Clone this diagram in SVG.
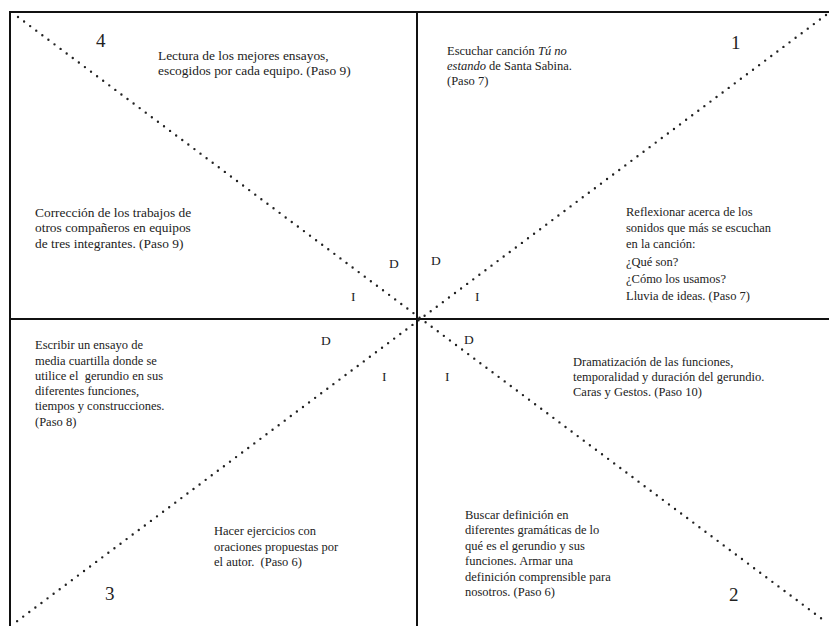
<svg xmlns="http://www.w3.org/2000/svg" width="829" height="626" viewBox="0 0 829 626">
<style>
text { font-family: "Liberation Serif", "Times New Roman", serif; fill: #222; white-space: pre; }
.t { font-size: 12.5px; }
.tb { font-size: 13.4px; }
.num { font-size: 19px; }
.lbl { font-size: 13.5px; }
.frame { stroke: #111; stroke-width: 2; fill: none; }
.dot { stroke: #222; stroke-width: 2.4; stroke-linecap: round; stroke-dasharray: 0 7.6; fill: none; }
</style>
<rect width="829" height="626" fill="#fff"/>
<g id="connectors">
  <line class="frame" x1="10" y1="12" x2="829" y2="12"/>
  <line class="frame" x1="10" y1="11" x2="10" y2="626"/>
  <line class="frame" x1="417" y1="12" x2="417" y2="626"/>
  <line class="frame" x1="10" y1="319" x2="829" y2="319"/>
  <line class="dot" x1="18" y1="17" x2="826" y2="622"/>
  <line class="dot" x1="826" y1="15" x2="16" y2="622"/>
</g>
<g id="q4">
  <text class="num" x="96" y="47">4</text>
  <text class="tb" x="158" y="60">Lectura de los mejores ensayos,</text>
  <text class="tb" x="158" y="75">escogidos por cada equipo. (Paso 9)</text>
  <text class="tb" x="35" y="217">Corrección de los trabajos de</text>
  <text class="tb" x="35" y="232">otros compañeros en equipos</text>
  <text class="tb" x="35" y="248">de tres integrantes. (Paso 9)</text>
  <text class="lbl" x="389" y="268">D</text>
  <text class="lbl" x="351" y="301">I</text>
</g>
<g id="q1">
  <text class="num" x="731" y="49">1</text>
  <text class="t" x="447" y="55">Escuchar canción <tspan font-style="italic">Tú no</tspan></text>
  <text class="t" x="447" y="70"><tspan font-style="italic">estando</tspan> de Santa Sabina.</text>
  <text class="t" x="447" y="85">(Paso 7)</text>
  <text class="t" x="626" y="216">Reflexionar acerca de los</text>
  <text class="t" x="626" y="232">sonidos que más se escuchan</text>
  <text class="t" x="626" y="248">en la canción:</text>
  <text class="t" x="626" y="266">¿Qué son?</text>
  <text class="t" x="626" y="283">¿Cómo los usamos?</text>
  <text class="t" x="626" y="300">Lluvia de ideas. (Paso 7)</text>
  <text class="lbl" x="431" y="265">D</text>
  <text class="lbl" x="475" y="301">I</text>
</g>
<g id="q3">
  <text class="t" x="35" y="349">Escribir un ensayo de</text>
  <text class="t" x="35" y="365">media cuartilla donde se</text>
  <text class="t" x="35" y="380">utilice el  gerundio en sus</text>
  <text class="t" x="35" y="395">diferentes funciones,</text>
  <text class="t" x="35" y="410">tiempos y construcciones.</text>
  <text class="t" x="35" y="426">(Paso 8)</text>
  <text class="lbl" x="321" y="345">D</text>
  <text class="lbl" x="382" y="381">I</text>
  <text class="t" x="214" y="535">Hacer ejercicios con</text>
  <text class="t" x="214" y="551">oraciones propuestas por</text>
  <text class="t" x="214" y="566">el autor.  (Paso 6)</text>
  <text class="num" x="105" y="600">3</text>
</g>
<g id="q2">
  <text class="lbl" x="464" y="344">D</text>
  <text class="lbl" x="445" y="381">I</text>
  <text class="t" x="573" y="366">Dramatización de las funciones,</text>
  <text class="t" x="573" y="381">temporalidad y duración del gerundio.</text>
  <text class="t" x="573" y="396">Caras y Gestos. (Paso 10)</text>
  <text class="t" x="465" y="519">Buscar definición en</text>
  <text class="t" x="465" y="534">diferentes gramáticas de lo</text>
  <text class="t" x="465" y="550">qué es el gerundio y sus</text>
  <text class="t" x="465" y="565">funciones. Armar una</text>
  <text class="t" x="465" y="581">definición comprensible para</text>
  <text class="t" x="465" y="596">nosotros. (Paso 6)</text>
  <text class="num" x="729" y="601">2</text>
</g>
</svg>
